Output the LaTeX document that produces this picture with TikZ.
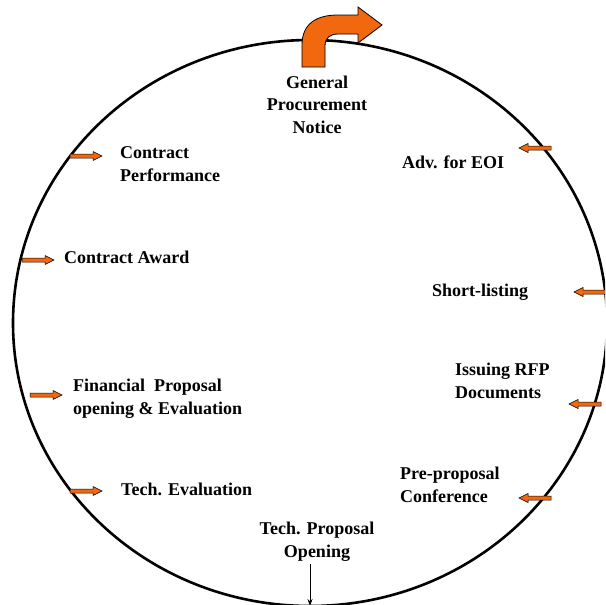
\documentclass[tikz,border=0pt]{standalone}
\usepackage{fontspec}
\setmainfont{Liberation Serif}
\usetikzlibrary{arrows.meta}
\definecolor{arrorange}{RGB}{242,104,14}
\tikzset{
  lbl/.style={font=\bfseries\fontsize{18}{22.5}\selectfont,inner sep=0pt,align=left,anchor=base west},
  smallarr/.pic={
    \filldraw[fill=arrorange,draw=black,line width=.5pt]
      (0,-2)--(23,-2)--(23,-4.5)--(32,0)--(23,4.5)--(23,2)--(0,2)--cycle;
  },
}

\begin{document}
\begin{tikzpicture}[x=1pt,y=-1pt]
\useasboundingbox(0,0)rectangle(605,605);
\clip(0,0)rectangle(605,605);
\draw[line width=2.6pt](310,323)ellipse[x radius=297,y radius=283];
% arrow tails on the circle
\coordinate(CPa)at(70,156);
\coordinate(CAa)at(22,260);
\coordinate(FPa)at(30,395);
\coordinate(TEa)at(70,491);
\coordinate(EOIa)at(551,148);
\coordinate(SLa)at(606,292);
\coordinate(RFPa)at(601,404);
\coordinate(PPCa)at(551,498);
\coordinate(TPOa)at(310,606);
\pic at(CPa){smallarr};
\pic at(CAa){smallarr};
\pic at(FPa){smallarr};
\pic at(TEa){smallarr};
\pic[rotate=180]at(EOIa){smallarr};
\pic[rotate=180]at(SLa){smallarr};
\pic[rotate=180]at(RFPa){smallarr};
\pic[rotate=180]at(PPCa){smallarr};
% labels (base = last line)
\node[lbl,align=center,anchor=base](GPN)at(317,133){General\\Procurement\\Notice};
\node[lbl](EOI)at(402,168){Adv. for EOI};
\node[lbl](SL)at(432,296){Short-listing};
\node[lbl](RFP)at(455,398){Issuing RFP\\Documents};
\node[lbl](PPC)at(400,502){Pre-proposal\\Conference};
\node[lbl,align=center,anchor=base](TPO)at(317,557){Tech. Proposal\\Opening};
\node[lbl](TE)at(121,495){Tech. Evaluation};
\node[lbl](FP)at(73,414){Financial\ \ Proposal\\opening \& Evaluation};
\node[lbl](CA)at(64,263){Contract Award};
\node[lbl](CP)at(120,181){Contract\\Performance};
\draw[-{Stealth[length=7pt,width=5pt]},line width=1pt,shorten <=3pt](TPO.south-|TPOa)--(TPOa);
% bent arrow at the top
\filldraw[fill=arrorange,line width=.8pt](302,67)--(302,45)
  ..controls(302,24)and(316,15)..(338,15)--(358,15)--(358,7)--(382,25)
  --(358,43)--(358,34)--(338,34)..controls(330,34)and(325,38)..(325,46)
  --(325,67)--cycle;
\end{tikzpicture}
\end{document}
